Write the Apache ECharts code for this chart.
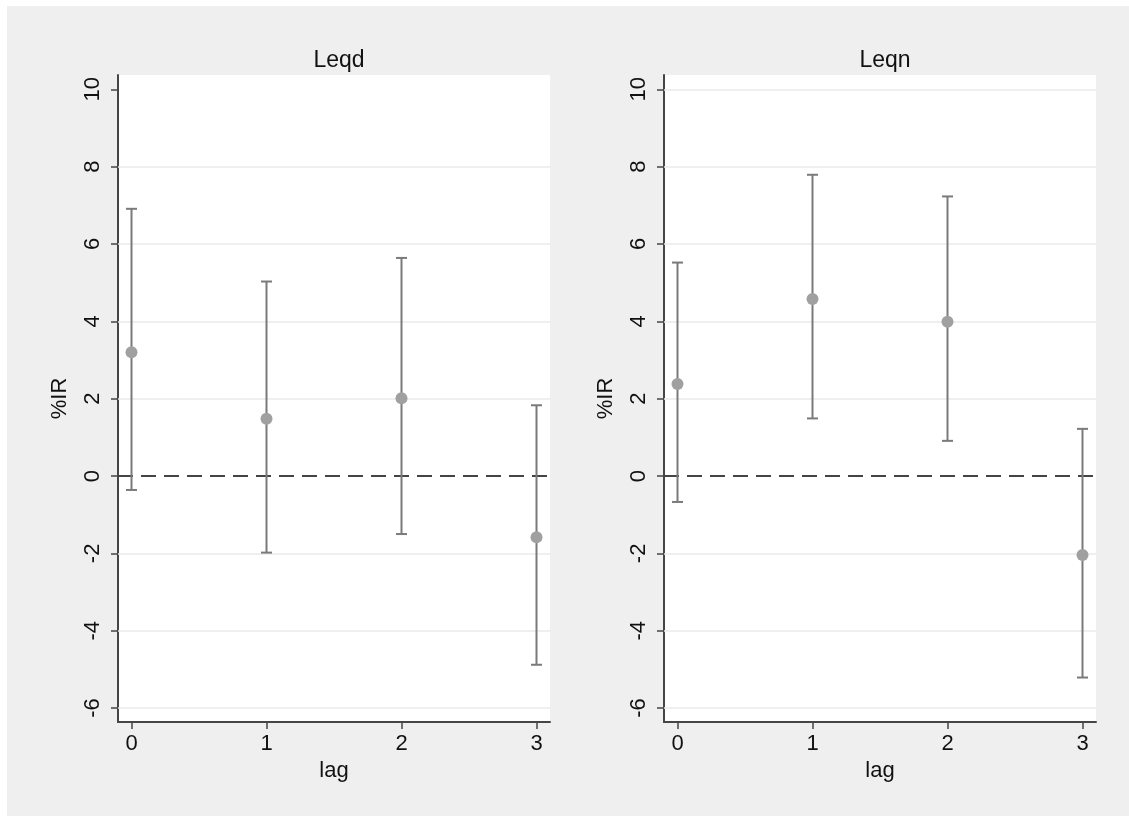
<!DOCTYPE html>
<html>
<head>
<meta charset="utf-8">
<script src="https://cdn.jsdelivr.net/npm/echarts@6/dist/echarts.min.js"></script>
<style>
  html, body { margin: 0; padding: 0; background: #ffffff; }
  #chart { width: 1129px; height: 816px; }
</style>
</head>
<body>
<div id="chart"></div>
<script>
// ---- data ----
const panelTitles = ['Leqd', 'Leqn'];
const lags = [0, 1, 2, 3];
const leqdPoint = [3.20, 1.48, 2.01, -1.58];
const leqdUpper = [6.91, 5.03, 5.64, 1.83];
const leqdLower = [-0.36, -1.98, -1.50, -4.88];
const leqnPoint = [2.38, 4.58, 3.99, -2.04];
const leqnUpper = [5.52, 7.79, 7.23, 1.22];
const leqnLower = [-0.67, 1.49, 0.91, -5.21];
const yTicks = [-6, -4, -2, 0, 2, 4, 6, 8, 10];
const xTicks = [0, 1, 2, 3];
const leqdGridlines = [-6, -4, -2, 2, 4, 6, 8];
const leqnGridlines = [-6, -4, -2, 2, 4, 6, 8, 10];
const yAxisName = '%IR';
const xAxisName = 'lag';

// ---- styling / layout ----
const FONT = '"Liberation Sans", Arial, Helvetica, sans-serif';
const AXIS_COLOR = '#454545';
const BAR_COLOR = '#7a7a7a';
const POINT_COLOR = '#a0a0a0';
const GRID_COLOR = '#eaeaea';
const panels = [
  { left: 118, title: panelTitles[0], point: leqdPoint, upper: leqdUpper, lower: leqdLower, gl: leqdGridlines },
  { left: 664, title: panelTitles[1], point: leqnPoint, upper: leqnUpper, lower: leqnLower, gl: leqnGridlines }
];
const PW = 432, PTOP = 75, PH = 647;

const grids = [], xAxes = [], yAxes = [], series = [], titles = [];
panels.forEach((p, i) => {
  grids.push({ left: p.left, top: PTOP, width: PW, height: PH, show: true,
    backgroundColor: '#ffffff', borderWidth: 0, containLabel: false });
  titles.push({ text: p.title, left: p.left + PW / 2, top: 44, textAlign: 'center',
    textStyle: { fontFamily: FONT, fontSize: 23, fontWeight: 'normal', color: '#111' } });
  xAxes.push({ type: 'value', gridIndex: i, min: -0.1, max: 3.1,
    name: xAxisName, nameLocation: 'middle', nameGap: 36,
    nameTextStyle: { fontFamily: FONT, fontSize: 22, color: '#111' },
    axisLine: { show: true, onZero: false, lineStyle: { color: AXIS_COLOR, width: 2 } },
    axisTick: { show: true, length: 7, customValues: xTicks, lineStyle: { color: AXIS_COLOR, width: 1.5 } },
    axisLabel: { customValues: xTicks, fontFamily: FONT, fontSize: 22, color: '#111', margin: 11 },
    splitLine: { show: false } });
  yAxes.push({ type: 'value', gridIndex: i, min: -6.36, max: 10.37,
    name: yAxisName, nameLocation: 'middle', nameGap: 47,
    nameTextStyle: { fontFamily: FONT, fontSize: 22, color: '#111' },
    axisLine: { show: true, onZero: false, lineStyle: { color: AXIS_COLOR, width: 2 } },
    axisTick: { show: true, length: 7, customValues: yTicks, lineStyle: { color: AXIS_COLOR, width: 1.5 } },
    axisLabel: { customValues: yTicks, rotate: 90, fontFamily: FONT, fontSize: 22, color: '#111', margin: 14 },
    splitLine: { show: false } });

  // gridlines + zero reference line
  series.push({ type: 'scatter', xAxisIndex: i, yAxisIndex: i, data: [], silent: true, z: 1,
    markLine: { silent: true, symbol: 'none', z: 1, animation: false, label: { show: false },
      lineStyle: { color: GRID_COLOR, width: 1.5, type: 'solid' },
      data: p.gl.map(v => ({ yAxis: v })) } });
  series.push({ type: 'scatter', xAxisIndex: i, yAxisIndex: i, data: [], silent: true, z: 2,
    markLine: { silent: true, symbol: 'none', z: 2, animation: false, label: { show: false },
      lineStyle: { color: '#444444', width: 2, type: [15, 8] },
      data: [{ yAxis: 0 }] } });

  // error bars
  series.push({ type: 'custom', xAxisIndex: i, yAxisIndex: i, z: 3, silent: true, animation: false,
    data: lags.map((l, k) => [l, p.lower[k], p.upper[k]]),
    renderItem: function (params, api) {
      const x = api.value(0);
      const lo = api.coord([x, api.value(1)]);
      const hi = api.coord([x, api.value(2)]);
      const hw = 5.5;
      const st = { stroke: BAR_COLOR, lineWidth: 2, fill: null };
      return { type: 'group', children: [
        { type: 'line', shape: { x1: lo[0], y1: lo[1], x2: hi[0], y2: hi[1] }, style: st },
        { type: 'line', shape: { x1: lo[0] - hw, y1: lo[1], x2: lo[0] + hw, y2: lo[1] }, style: st },
        { type: 'line', shape: { x1: hi[0] - hw, y1: hi[1], x2: hi[0] + hw, y2: hi[1] }, style: st }
      ] };
    } });

  // point estimates
  series.push({ type: 'scatter', xAxisIndex: i, yAxisIndex: i, z: 4, silent: true, animation: false,
    symbol: 'circle', symbolSize: 12, itemStyle: { color: POINT_COLOR, opacity: 1 },
    data: lags.map((l, k) => [l, p.point[k]]) });
});

const chart = echarts.init(document.getElementById('chart'), null, { renderer: 'canvas' });
chart.setOption({
  animation: false,
  backgroundColor: '#ffffff',
  textStyle: { fontFamily: FONT },
  graphic: [{ type: 'rect', z: -100, silent: true,
    shape: { x: 7, y: 6, width: 1129 - 7, height: 816 - 6 }, style: { fill: '#efefef' } }],
  title: titles,
  grid: grids,
  xAxis: xAxes,
  yAxis: yAxes,
  series: series
});
</script>
</body>
</html>
